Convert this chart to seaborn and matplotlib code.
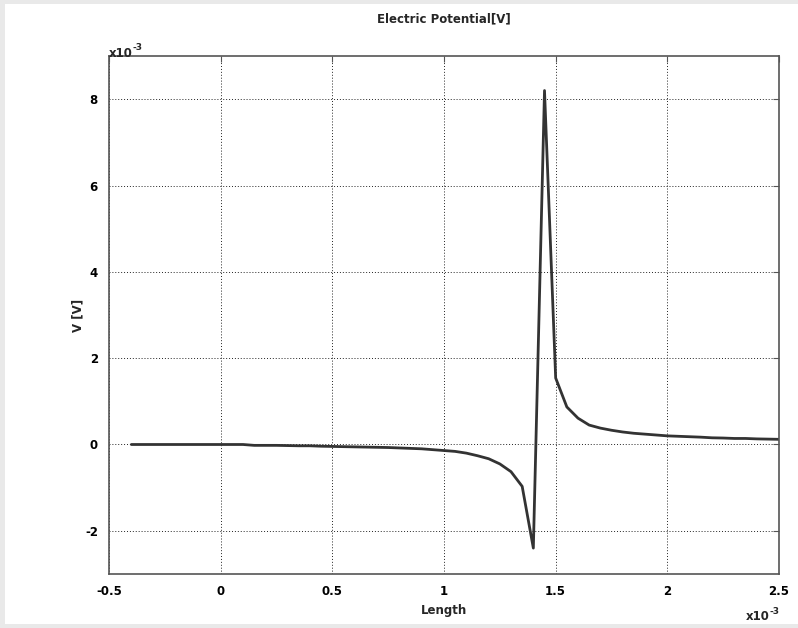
import pandas as pd
import matplotlib
matplotlib.use("Agg")
import matplotlib.pyplot as plt
from matplotlib.patches import Rectangle
import seaborn as sns

# values, x and y both in units of 1e-3
length = [-0.4, -0.35, -0.3, -0.25, -0.2, -0.15, -0.1, -0.05, 0.0, 0.05,
          0.1, 0.15, 0.2, 0.25, 0.3, 0.35, 0.4, 0.45, 0.5, 0.55,
          0.6, 0.65, 0.7, 0.75, 0.8, 0.85, 0.9, 0.95, 1.0, 1.05,
          1.1, 1.15, 1.2, 1.25, 1.3, 1.35, 1.4, 1.45, 1.5, 1.55,
          1.6, 1.65, 1.7, 1.75, 1.8, 1.85, 1.9, 1.95, 2.0, 2.05,
          2.1, 2.15, 2.2, 2.25, 2.3, 2.35, 2.4, 2.45, 2.5]
potential = [0.0, 0.0, 0.0, 0.0, 0.0, 0.0, 0.0, 0.0, 0.0, 0.0,
             0.0, -0.02, -0.02, -0.02, -0.025, -0.03, -0.03, -0.04, -0.045, -0.05,
             -0.055, -0.06, -0.065, -0.07, -0.08, -0.09, -0.10, -0.12, -0.14, -0.16,
             -0.2, -0.26, -0.33, -0.45, -0.63, -0.97, -2.4, 8.2, 1.54, 0.87,
             0.61, 0.45, 0.38, 0.33, 0.29, 0.26, 0.24, 0.22, 0.20, 0.19,
             0.18, 0.17, 0.155, 0.15, 0.14, 0.14, 0.13, 0.125, 0.12]

xticks = [-0.5, 0, 0.5, 1, 1.5, 2, 2.5]
xtick_labels = ["-0.5", "0", "0.5", "1", "1.5", "2", "2.5"]
yticks = [-2, 0, 2, 4, 6, 8]
ytick_labels = ["-2", "0", "2", "4", "6", "8"]

df = pd.DataFrame({"Length": length, "V": potential})

sns.set_style("white")
plt.rcParams["font.family"] = ["DejaVu Sans"]
plt.rcParams["axes.unicode_minus"] = False

fig = plt.figure(figsize=(7.98, 6.28), dpi=100)
fig.patch.set_facecolor("#e9e9e9")
# white page inside a thin grey frame
fig.patches.append(Rectangle((5 / 798, 4 / 628), 793 / 798, 620 / 628,
                             transform=fig.transFigure, facecolor="white",
                             edgecolor="none", zorder=-10))
ax = fig.add_axes([0.1366, 0.086, 0.8396, 0.8248])

sns.lineplot(x="Length", y="V", data=df, color="#333333", linewidth=2, ax=ax)

ax.set_xlim(-0.5, 2.5)
ax.set_ylim(-3, 9)
ax.set_xticks(xticks)
ax.set_xticklabels(xtick_labels)
ax.set_yticks(yticks)
ax.set_yticklabels(ytick_labels)
ax.grid(True, color="#222222", linestyle=(0, (1, 2)), linewidth=0.7)
ax.tick_params(direction="in", length=4, width=0.8, top=True, right=True,
               labelsize=8.5, pad=8, colors="#555555", labelcolor="black")
for lab in ax.get_xticklabels() + ax.get_yticklabels():
    lab.set_fontweight("bold")
for sp in ax.spines.values():
    sp.set_color("#555555")
    sp.set_linewidth(1.2)

ax.set_title("Electric Potential[V]", fontsize=8.5, fontweight="bold", pad=24)
ax.set_xlabel("Length", fontsize=8.5, fontweight="bold", labelpad=4)
ax.set_ylabel("V [V]", fontsize=8.5, fontweight="bold", labelpad=0)

# exponent labels, MATLAB style
t1 = ax.text(0.0, 0.999, "x10", transform=ax.transAxes, fontsize=8.5,
             fontweight="bold", ha="left", va="baseline")
ax.annotate("-3", xy=(1, 0.55), xycoords=t1, fontsize=6.5,
            fontweight="bold", ha="left", va="bottom")
t2 = ax.text(0.986, -0.07, "x10", transform=ax.transAxes, fontsize=8.5,
             fontweight="bold", ha="right", va="top")
ax.annotate("-3", xy=(1, 0.55), xycoords=t2, fontsize=6.5,
            fontweight="bold", ha="left", va="bottom")

fig.savefig("out.png", dpi=100, facecolor=fig.get_facecolor())
